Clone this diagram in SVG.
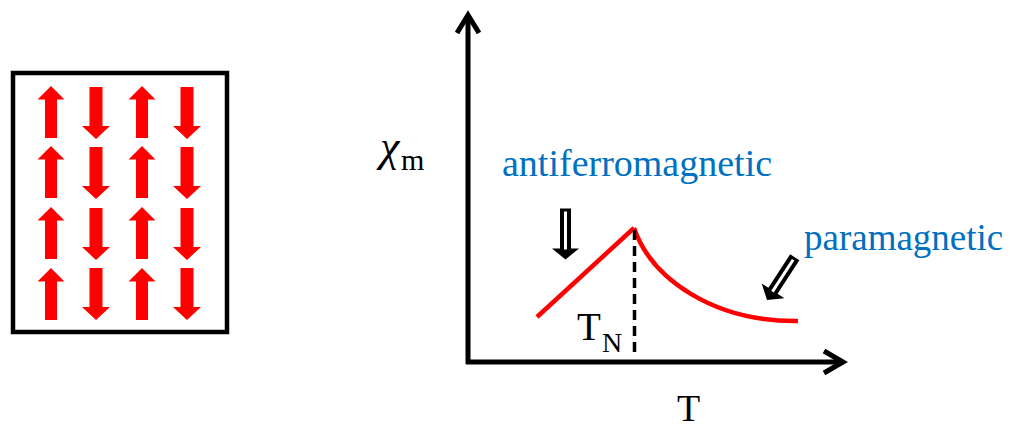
<svg xmlns="http://www.w3.org/2000/svg" xmlns:xlink="http://www.w3.org/1999/xlink" width="1010" height="430" viewBox="0 0 1010 430">
  <style>
    .spin { fill: #ff0000; }
    .axis { fill: none; stroke: #000; stroke-width: 5; stroke-linecap: butt; stroke-linejoin: miter; }
    .curve { fill: none; stroke: #ff0000; stroke-width: 4.5; }
    .serif { font-family: "Liberation Serif", "Times New Roman", serif; }
    .blue { fill: #0070C0; }
    .blk { fill: #000; }
  </style>
  <defs>
    <polygon id="up" points="0,0 13.5,13.5 6,13.5 6,52 -6,52 -6,13.5 -13.5,13.5"/>
    <polygon id="down" points="-6.5,0 6.5,0 6.5,39 14,39 0,52 -14,39 -6.5,39"/>
    <g id="hollow">
      <polygon points="-5.5,-51 5.5,-51 5.5,-11 13.5,-11 0,0 -13.5,-11 -5.5,-11" fill="#000"/>
      <rect x="-1.5" y="-48" width="3" height="38" fill="#fff"/>
    </g>
  </defs>

  <g id="lattice">
    <rect x="13" y="73" width="214" height="259" fill="#fff" stroke="#000" stroke-width="4.5"/>
    <g class="spin">
      <use xlink:href="#up" x="51" y="86"/>
      <use xlink:href="#down" x="96" y="87"/>
      <use xlink:href="#up" x="142" y="86"/>
      <use xlink:href="#down" x="187" y="87"/>
      <use xlink:href="#up" x="51" y="146"/>
      <use xlink:href="#down" x="96" y="147"/>
      <use xlink:href="#up" x="142" y="146"/>
      <use xlink:href="#down" x="187" y="147"/>
      <use xlink:href="#up" x="51" y="207"/>
      <use xlink:href="#down" x="96" y="208"/>
      <use xlink:href="#up" x="142" y="207"/>
      <use xlink:href="#down" x="187" y="208"/>
      <use xlink:href="#up" x="51" y="268"/>
      <use xlink:href="#down" x="96" y="268"/>
      <use xlink:href="#up" x="142" y="268"/>
      <use xlink:href="#down" x="187" y="268"/>
    </g>
  </g>

  <g id="axes">
    <polyline class="axis" points="468,364 468,16"/>
    <polyline class="axis" points="457,33 468,15 479,33"/>
    <polyline class="axis" points="466,362 843,362"/>
    <polyline class="axis" points="824,351 843,362 824,373"/>
  </g>

  <g id="connectors">
    <path class="curve" d="M537,317 L634,228"/>
    <path class="curve" d="M634,228 C652,280 715,322 798,321"/>
    <line x1="634.5" y1="230" x2="634.5" y2="352" stroke="#000" stroke-width="3.5" stroke-dasharray="10,6"/>
    <use xlink:href="#hollow" transform="translate(565.5,259.5)"/>
    <use xlink:href="#hollow" transform="translate(767,300) rotate(33)"/>
  </g>

  <g id="labels" class="serif">
    <text x="380" y="161" font-size="44" font-style="italic" class="blk">χ</text>
    <text x="401" y="170" font-size="30" class="blk">m</text>
    <text x="502" y="176" font-size="38" class="blue">antiferromagnetic</text>
    <text x="804" y="250" font-size="37" class="blue">paramagnetic</text>
    <text x="577" y="340" font-size="39" class="blk">T</text>
    <text x="602" y="352" font-size="28" class="blk">N</text>
    <text x="677" y="421" font-size="38" class="blk">T</text>
  </g>
</svg>
